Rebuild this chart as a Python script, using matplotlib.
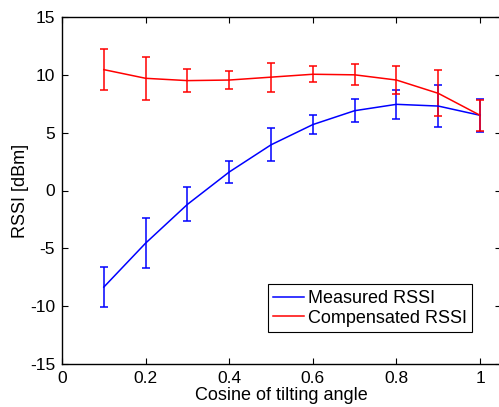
import numpy as np
import matplotlib
matplotlib.use("Agg")
import matplotlib.pyplot as plt
from matplotlib.lines import Line2D

plt.rcParams['font.family'] = ['Liberation Sans', 'DejaVu Sans']
plt.rcParams['axes.unicode_minus'] = False

# Cosine of tilting angle
x = [0.1, 0.2, 0.3, 0.4, 0.5, 0.6, 0.7, 0.8, 0.9, 1.0]

# Measured RSSI (mean, error)
meas = [-8.35, -4.55, -1.2, 1.6, 3.95, 5.7, 6.9, 7.45, 7.3, 6.5]
meas_err = [1.75, 2.15, 1.47, 0.95, 1.44, 0.82, 1.0, 1.27, 1.8, 1.4]

# Compensated RSSI (mean, error)
comp = [10.45, 9.7, 9.5, 9.55, 9.8, 10.05, 10.0, 9.55, 8.4, 6.5]
comp_err = [1.8, 1.85, 1.0, 0.75, 1.25, 0.7, 0.9, 1.25, 2.0, 1.35]

xticks = [0, 0.2, 0.4, 0.6, 0.8, 1]
xtick_labels = ["0", "0.2", "0.4", "0.6", "0.8", "1"]
yticks = [-15, -10, -5, 0, 5, 10, 15]

fig = plt.figure(figsize=(4.99, 4.07), dpi=100)
ax = fig.add_axes([62/499, 43/407, 439/499, 347/407])

ax.errorbar(x, meas, yerr=meas_err, color='#0000ff', lw=1.1, elinewidth=1.1,
            capsize=3, capthick=1.1)
ax.errorbar(x, comp, yerr=comp_err, color='#ff0000', lw=1.1, elinewidth=1.1,
            capsize=3, capthick=1.1)

ax.set_xlim(0, 1.05)
ax.set_ylim(-15, 15)
ax.set_xticks(xticks)
ax.set_xticklabels(xtick_labels)
ax.set_yticks(yticks)
ax.tick_params(direction='in', top=True, right=True, length=4, labelsize=12.5, pad=5)
for s in ax.spines.values():
    s.set_linewidth(1.0)

ax.set_xlabel("Cosine of tilting angle", fontsize=13)
ax.xaxis.set_label_coords((281 - 62) / 439, -0.066)
ax.set_ylabel("RSSI [dBm]", fontsize=13)
ax.yaxis.set_label_coords((29 - 62) / 439, 0.5)

handles = [Line2D([], [], color='#0000ff', lw=1.1),
           Line2D([], [], color='#ff0000', lw=1.1)]
leg = ax.legend(handles, ['Measured RSSI', 'Compensated RSSI'],
                loc='lower right', bbox_to_anchor=((472 - 62) / 439, (364 - 332) / 347),
                fancybox=False, framealpha=1, edgecolor='black', fontsize=13,
                borderaxespad=0, handlelength=1.7, borderpad=0.3, labelspacing=0.15,
                handletextpad=0.2)
leg.get_frame().set_linewidth(0.8)

fig.savefig("out.png", dpi=100)
